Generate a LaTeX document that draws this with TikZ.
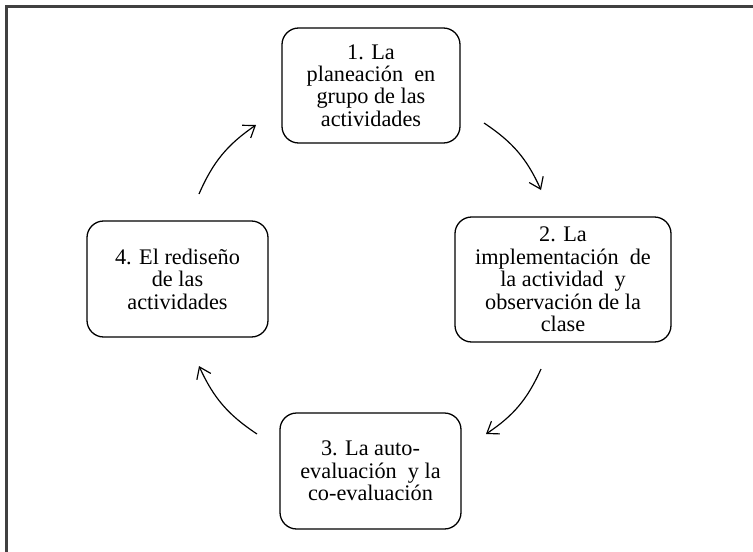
\documentclass[tikz,border=0pt]{standalone}
\usepackage{fontspec}
\setmainfont{Liberation Serif}
\usetikzlibrary{arrows.meta}

\begin{document}
\begin{tikzpicture}[x=0.03cm, y=0.03cm, font=\fontsize{19}{19.2}\selectfont,
    stage/.style={draw, line width=1.1pt, rounded corners=0.5cm, align=center, inner sep=1pt},
    cycle/.style={-{Straight Barb[length=3.2mm, width=4.6mm]}, line width=1pt}]
  \useasboundingbox (0,0) rectangle (753,-551);
  % Frame (only its left and top edges lie inside the picture)
  \draw[black!75, line width=2pt] (6.5,-700) |- (900,-6.5);
  % Stages
  \node[stage, minimum width=5.34cm, minimum height=3.45cm] (plan) at (371,-85.5)
    {1. La\\planeación\ \ en\\grupo de las\\actividades};
  \node[stage, minimum width=6.48cm, minimum height=3.75cm] (impl) at (563,-279.5)
    {2. La\\implementación\ \ de\\la actividad\ \ y\\observación de la\\clase};
  \node[stage, minimum width=5.43cm, minimum height=3.48cm] (eval) at (370.5,-471)
    {3. La auto-\\evaluación\ \ y la\\co-evaluación};
  \node[stage, minimum width=5.43cm, minimum height=3.48cm] (redo) at (177.5,-279)
    {4. El rediseño\\de las\\actividades};
  % Arrow ends
  \coordinate (s1) at (484,-123);  \coordinate (e1) at (541,-190);
  \coordinate (s2) at (541,-369);  \coordinate (e2) at (486,-434);
  \coordinate (s3) at (257,-434);  \coordinate (e3) at (199,-366);
  \coordinate (s4) at (199,-194);  \coordinate (e4) at (256,-125);
  % Cycle arrows
  \draw[cycle] (s1) to[bend left=16] (e1);
  \draw[cycle] (s2) to[bend left=16] (e2);
  \draw[cycle] (s3) to[bend left=16] (e3);
  \draw[cycle] (s4) to[bend left=16] (e4);
\end{tikzpicture}
\end{document}
